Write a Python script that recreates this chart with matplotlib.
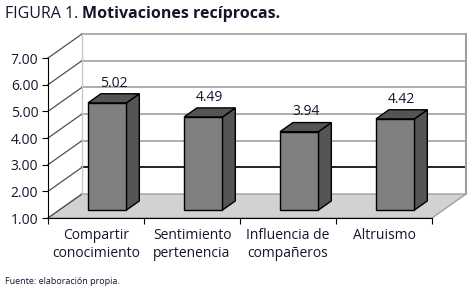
import matplotlib
matplotlib.use('Agg')
import matplotlib.pyplot as plt
from matplotlib.patches import Polygon

categories = ['Compartir\nconocimiento', 'Sentimiento\npertenencia',
              'Influencia de\ncompañeros', 'Altruismo']
values = [5.02, 4.49, 3.94, 4.42]
yticks = [1, 2, 3, 4, 5, 6, 7]

plt.rcParams['font.family'] = ['Open Sans', 'DejaVu Sans']
txt = '#15152e'

fig = plt.figure(figsize=(4.67, 2.90), dpi=100)
ax = fig.add_axes([48/467, 72/290, 384/467, 160/290])
ax.set_xlim(-0.5, len(categories) - 0.5)
ax.set_ylim(yticks[0], yticks[-1])

# depth of the pseudo-3d box, in data units
DX, DY = 0.354, 0.9
x0, x1 = -0.5, len(categories) - 0.5
y0, y1 = yticks[0], yticks[-1]
grey = '#a0a0a0'

# floor
ax.add_patch(Polygon([(x0, y0), (x1, y0), (x1 + DX, y0 + DY), (x0 + DX, y0 + DY)],
                     closed=True, facecolor='#d2d2d2', edgecolor=grey, lw=1,
                     clip_on=False, zorder=1))
# back wall grid
for t in yticks[1:]:
    c = 'black' if t == 2 else grey
    ax.plot([x0 + DX, x1 + DX], [t + DY, t + DY], color=c, lw=1.2, clip_on=False, zorder=1)
# left wall diagonals
for t in yticks:
    ax.plot([x0, x0 + DX], [t, t + DY], color='#505050', lw=0.9, clip_on=False, zorder=1)
ax.plot([x0 + DX, x0 + DX], [y0 + DY, y1 + DY], color='#c8c8c8', lw=1, clip_on=False, zorder=1)
ax.plot([x1 + DX, x1 + DX], [y0 + DY, y1 + DY], color=grey, lw=1.5, clip_on=False, zorder=1)

# bars
d0, d1 = 0.33, 0.71
w = 0.2
ox, oy = d0 * DX, d0 * DY
bx, by = (d1 - d0) * DX, (d1 - d0) * DY
for i, v in enumerate(values):
    l, r = i - w + ox, i + w + ox
    b, t = y0 + oy, v + oy
    front = Polygon([(l, b), (r, b), (r, t), (l, t)], closed=True,
                    facecolor='#808080', edgecolor='black', lw=1, clip_on=False, zorder=3)
    side = Polygon([(r, b), (r + bx, b + by), (r + bx, t + by), (r, t)], closed=True,
                   facecolor='#555555', edgecolor='black', lw=1, clip_on=False, zorder=3)
    top = Polygon([(l, t), (r, t), (r + bx, t + by), (l + bx, t + by)], closed=True,
                  facecolor='#545454', edgecolor='black', lw=1, clip_on=False, zorder=3)
    for p in (side, top, front):
        ax.add_patch(p)
    ax.text(i + ox + bx / 2, t + by + 0.4, f'{v:.2f}', ha='center', va='center',
            fontsize=10, color=txt)

# axes
for s in ['top', 'right']:
    ax.spines[s].set_visible(False)
ax.spines['left'].set_zorder(2)
ax.spines['bottom'].set_zorder(2)
ax.set_yticks(yticks)
ax.set_yticklabels([f'{t:.2f}' for t in yticks], fontsize=10, color=txt)
ax.tick_params(axis='y', length=4, pad=3)
ax.set_xticks([x0 + k for k in range(len(categories) + 1)])
ax.set_xticklabels([])
ax.tick_params(axis='x', which='major', length=4, direction='out')
ax.set_xticks(range(len(categories)), minor=True)
ax.set_xticklabels(categories, minor=True, fontsize=10, color=txt, linespacing=1.3)
ax.tick_params(axis='x', which='minor', length=0, pad=7)
ax.patch.set_visible(False)

# title and source
fig.canvas.draw()
r = fig.canvas.get_renderer()
t1 = fig.text(5/467, 1 - 14/290, 'FIGURA 1. ', fontsize=11.5, color=txt, va='center')
ext = t1.get_window_extent(r)
fig.text(ext.x1 / fig.bbox.width, 1 - 14/290, 'Motivaciones recíprocas.', fontsize=11.5,
         fontweight='bold', color=txt, va='center')
fig.text(5/467, 1 - 282/290, 'Fuente: elaboración propia.', fontsize=6.5, color=txt, va='center')

fig.savefig('out.png', dpi=100)
